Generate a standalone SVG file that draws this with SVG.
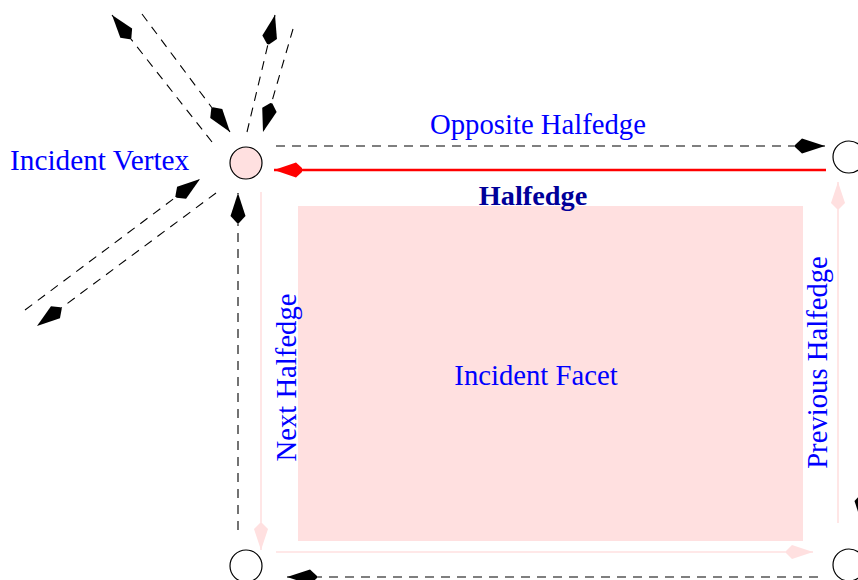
<svg xmlns="http://www.w3.org/2000/svg" width="858" height="580" viewBox="0 0 858 580">
  <style>
    .lbl { font-family: "Liberation Serif", "Times New Roman", serif; font-size: 28.7px; fill: #0000ff; }
    .bold { font-weight: bold; fill: #000099; font-size: 28.3px; }
    .dash { fill: none; stroke: #000; stroke-width: 1.1; stroke-dasharray: 9 7; marker-end: url(#ahBlack); }
    .pink { fill: none; stroke: #ffe0e0; stroke-width: 1.6; marker-end: url(#ahPink); }
    .vertex { stroke: #000; stroke-width: 1.2; fill: #fff; }
  </style>
  <defs>
    <marker id="ahBlack" markerUnits="userSpaceOnUse" orient="auto" viewBox="-32 -9 33 18" refX="0" refY="0" markerWidth="33" markerHeight="18">
      <path d="M0,0 L-23,-7.5 L-30,-1 L-30,1 L-23,7.5 Z" fill="#000"/>
    </marker>
    <marker id="ahPink" markerUnits="userSpaceOnUse" orient="auto" viewBox="-32 -9 33 18" refX="0" refY="0" markerWidth="33" markerHeight="18">
      <path d="M0,0 L-21,-7 L-27,-1 L-27,1 L-21,7 Z" fill="#ffe0e0"/>
    </marker>
    <marker id="ahRed" markerUnits="userSpaceOnUse" orient="auto" viewBox="-32 -9 33 18" refX="0" refY="0" markerWidth="33" markerHeight="18">
      <path d="M0,0 L-22,-7.5 L-28,-2 L-28,2 L-22,7.5 Z" fill="#ff0000"/>
    </marker>
  </defs>

  <!-- facet -->
  <g id="facet">
    <rect x="298" y="206" width="505" height="335" fill="#ffe0e0"/>
    <text class="lbl" x="536" y="385" text-anchor="middle">Incident Facet</text>
  </g>

  <!-- connectors -->
  <g id="connectors">
    <!-- halfedges around the incident vertex -->
    <path class="dash" d="M142,14 L230,132"/>
    <path class="dash" d="M212,142 L112,15"/>
    <path class="dash" d="M247,132 L275,15"/>
    <path class="dash" d="M293,29 L263,132"/>
    <path class="dash" d="M216,193 L37,326"/>
    <path class="dash" d="M25,310 L200,179"/>
    <!-- opposite halfedge -->
    <path class="dash" d="M276,146 L825,146"/>
    <!-- left and bottom boundary halfedges -->
    <path class="dash" d="M238,530 L238,193"/>
    <path class="dash" d="M818,577 L287,577"/>
    <path class="dash" d="M862,420 L862,524"/>
    <!-- next / previous halfedges along the facet -->
    <path class="pink" d="M261,192 L261,550"/>
    <path class="pink" d="M276,552 L813,552"/>
    <path class="pink" d="M838,523 L838,182"/>
    <!-- the halfedge itself -->
    <path d="M826,170 L274,170" fill="none" stroke="#ff0000" stroke-width="2.6" marker-end="url(#ahRed)"/>
  </g>

  <!-- vertices -->
  <g id="vertex-incident">
    <circle cx="246" cy="163" r="16" class="vertex" style="fill:#ffe0e0"/>
    <text class="lbl" x="10" y="170" style="font-size:29.3px">Incident Vertex</text>
  </g>
  <g id="vertex-top-right">
    <circle cx="849" cy="157" r="16" class="vertex"/>
  </g>
  <g id="vertex-bottom-left">
    <circle cx="246" cy="566" r="16" class="vertex"/>
  </g>
  <g id="vertex-bottom-right">
    <circle cx="849" cy="565" r="16" class="vertex"/>
  </g>

  <!-- edge labels -->
  <g id="labels">
    <text class="lbl" x="538" y="134" text-anchor="middle">Opposite Halfedge</text>
    <text class="lbl bold" x="533" y="205" text-anchor="middle">Halfedge</text>
    <text class="lbl" transform="translate(296,377.5) rotate(-90)" text-anchor="middle">Next Halfedge</text>
    <text class="lbl" transform="translate(827,362.5) rotate(-90)" text-anchor="middle">Previous Halfedge</text>
  </g>
</svg>
